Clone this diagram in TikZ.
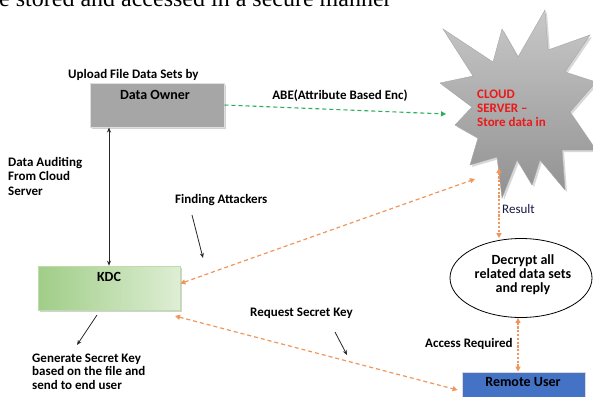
\documentclass[tikz,border=0pt]{standalone}
\usepackage{fontspec}
\setmainfont{Carlito}
\newfontfamily\serifpaper{Liberation Serif}
\usetikzlibrary{arrows.meta,shadows,shapes.geometric,calc}
\definecolor{orangeln}{RGB}{240,150,90}
\definecolor{greenln}{RGB}{40,175,90}
\definecolor{ownergray}{RGB}{166,166,166}
\definecolor{userblue}{RGB}{68,114,196}
\definecolor{kdcgreenA}{RGB}{160,205,135}
\definecolor{kdcgreenB}{RGB}{222,238,212}
\definecolor{cloudred}{RGB}{235,25,25}
\definecolor{resultnavy}{RGB}{25,25,70}
\definecolor{starlight}{RGB}{200,200,200}
\definecolor{stardark}{RGB}{145,145,145}
\begin{document}
\begin{tikzpicture}[x=1pt,y=-1pt,
  lbl/.style={font=\bfseries\fontsize{13}{14.5}\selectfont, align=left, inner sep=0pt, text=black},
  boxlbl/.style={font=\bfseries\fontsize{14}{14}\selectfont, align=center, inner sep=0pt, text=black},
  plainlbl/.style={font=\fontsize{13}{14}\selectfont, inner sep=0pt},
  boxshadow/.style={drop shadow={shadow xshift=1.5pt, shadow yshift=-1.5pt, opacity=0.35, fill=gray}},
  ownerbox/.style={rectangle, fill=ownergray, draw=gray!25, line width=1pt, minimum width=134pt, minimum height=44pt, inner sep=0pt, boxshadow},
  kdcbox/.style={rectangle, left color=kdcgreenA, right color=kdcgreenB, draw=kdcgreenA!70!white, line width=0.6pt, minimum width=142pt, minimum height=44pt, inner sep=0pt, boxshadow},
  userbox/.style={rectangle, fill=userblue, draw=gray!30, line width=0.8pt, minimum width=123pt, minimum height=32pt, inner sep=0pt},
  decryptshape/.style={ellipse, draw=black, line width=0.8pt, minimum width=142pt, minimum height=79pt, inner sep=0pt},
  orangedash/.style={draw=orangeln, line width=1.2pt, dash pattern=on 4pt off 3pt, {Triangle[length=5pt,width=5pt]}-{Triangle[length=5pt,width=5pt]}},
  orangedot/.style={draw=orangeln, line width=1.4pt, dash pattern=on 2.2pt off 1.6pt, {Triangle[length=5pt,width=5pt]}-{Triangle[length=5pt,width=5pt]}},
  greendash/.style={draw=greenln, line width=1.1pt, dash pattern=on 4pt off 3pt, -{Triangle[length=5pt,width=5pt]}},
  blackarrow/.style={draw=black!85, line width=0.8pt, -{Stealth[length=5pt,width=4pt]}},
  blackdouble/.style={draw=black!85, line width=0.8pt, {Stealth[length=5pt,width=4pt]}-{Stealth[length=5pt,width=4pt]}}
]
\useasboundingbox (0,0) rectangle (593,396);
\clip (0,0) rectangle (593,396);
\fill[white] (0,0) rectangle (593,396);

% clipped text of the page above
\node[anchor=base west, inner sep=0pt, font=\serifpaper\fontsize{24}{24}\selectfont] (papertext) at (-1,7) {e stored and accessed in a secure manner};

% cloud server star
\fill[gray!60, opacity=0.5, shift={(2,2)}]
  (443,29) -- (493,62) -- (502,29) -- (518,57) -- (545,10) -- (548,50) -- (590,35) -- (565,72)
  -- (596,82) -- (570,112) -- (596,150) -- (562,150) -- (565,190) -- (540,160) -- (532,185)
  -- (517,160) -- (502,198) -- (497,157) -- (470,165) -- (478,138) -- (455,125) -- (472,107)
  -- (440,83) -- (473,76) -- cycle;
\path[top color=starlight, bottom color=stardark, draw=gray!70, line width=0.4pt]
  (443,29) -- (493,62) -- (502,29) -- (518,57) -- (545,10) -- (548,50) -- (590,35) -- (565,72)
  -- (596,82) -- (570,112) -- (596,150) -- (562,150) -- (565,190) -- (540,160) -- (532,185)
  -- (517,160) -- (502,198) -- (497,157) -- (470,165) -- (478,138) -- (455,125) -- (472,107)
  -- (440,83) -- (473,76) -- cycle;
\coordinate (starL) at (446,114);
\coordinate (starSW) at (475,179);
\coordinate (starB) at (499,168);
\node[lbl, anchor=north west, text=cloudred, font=\bfseries\fontsize{13}{13.8}\selectfont] (cloudtxt) at (477,90) {CLOUD\\SERVER --\\Store data in};

% data owner
\node[lbl, anchor=west] (uploadlbl) at (68,75) {Upload File Data Sets by};
\node[ownerbox] (owner) at (157,105) {};
\node[boxlbl] (ownertxt) at (155,95) {Data Owner};

% ABE
\node[lbl] (abelbl) at (340,96) {ABE(Attribute Based Enc)};
\draw[greendash] (owner.east) -- (starL);

% KDC
\node[kdcbox] (kdc) at (109,288) {};
\node[boxlbl] (kdctxt) at (109,277) {KDC};
\draw[blackdouble] (kdc.north |- owner.south) -- (kdc.north);
\node[lbl, anchor=north west] (auditlbl) at (8,157) {Data Auditing\\From Cloud\\Server};

% finding attackers
\node[lbl, anchor=west] (findlbl) at (175,200) {Finding Attackers};
\coordinate (fa1) at (192,215);
\coordinate (fa2) at (203,258);
\draw[blackarrow] (fa1) -- (fa2);
\coordinate (kdcE) at ($(kdc.north east)!0.4!(kdc.south east)$);
\draw[orangedash] (kdcE) -- (starSW);

% result
\node[decryptshape] (decrypt) at (521,278) {};
\node[boxlbl] (decrypttxt) at (523,275) {Decrypt all\\related data sets\\and reply};
\draw[orangedot] (starB) -- (starB |- decrypt.north);
\node[plainlbl, anchor=west, text=resultnavy] (resultlbl) at (502,209) {Result};

% remote user
\node[userbox] (user) at (523.5,388) {};
\node[boxlbl] (usertxt) at (523,382) {Remote User};
\node[lbl, anchor=west] (accesslbl) at (425,344) {Access Required};
\draw[orangedot] ([xshift=-3pt]decrypt.south) -- ([xshift=-3pt]decrypt.south |- user.north);

% request secret key
\coordinate (kdcSE) at (175,316);
\draw[orangedash] (kdcSE) -- ([xshift=-4pt,yshift=-2pt]user.west);
\node[lbl, anchor=west] (reqlbl) at (250,313) {Request Secret Key};
\coordinate (rq1) at (335,332);
\coordinate (rq2) at (347,355);
\draw[blackarrow] (rq1) -- (rq2);

% generate secret key
\coordinate (gk1) at (97,315);
\coordinate (gk2) at (77,345);
\draw[blackarrow] (gk1) -- (gk2);
\node[lbl, anchor=north west, font=\bfseries\fontsize{13}{13.2}\selectfont] (genlbl) at (32,354) {Generate Secret Key\\based on the file and\\send to end user};
\end{tikzpicture}
\end{document}
